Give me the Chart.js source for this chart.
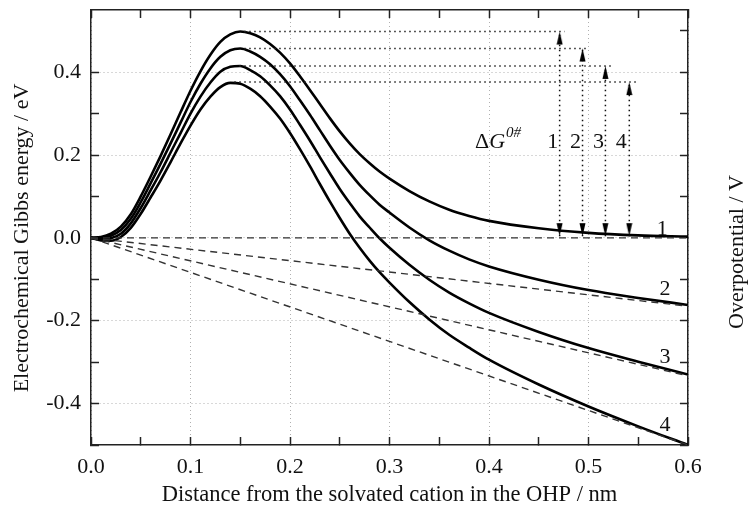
<!DOCTYPE html>
<html>
<head>
<meta charset="utf-8">
<script src="https://cdn.jsdelivr.net/npm/chart.js@4.4.0/dist/chart.umd.min.js"></script>
<style>
    html, body { margin: 0; padding: 0; background: #fff; }
</style>
</head>
<body>
<canvas id="chart-gibbs" width="750" height="517"></canvas>
<script>
// distance from the solvated cation in the OHP (nm)
var distance = [0, 0.01, 0.02, 0.03, 0.04, 0.05, 0.06, 0.07, 0.08, 0.09, 0.10, 0.11, 0.12, 0.13, 0.14, 0.15,
    0.16, 0.17, 0.18, 0.19, 0.20, 0.21, 0.22, 0.23, 0.24, 0.25, 0.26, 0.27, 0.28, 0.29, 0.30,
    0.32, 0.34, 0.36, 0.38, 0.40, 0.45, 0.50, 0.55, 0.60];

// electrochemical Gibbs energy (eV), curves 1-4
var gibbs1 = [0, 0.002, 0.010, 0.027, 0.057, 0.100, 0.148, 0.198, 0.250, 0.303, 0.355, 0.402, 0.442, 0.473, 0.491, 0.498,
    0.494, 0.484, 0.468, 0.447, 0.421, 0.390, 0.357, 0.323, 0.289, 0.257, 0.228, 0.202, 0.180, 0.160, 0.143,
    0.113, 0.088, 0.068, 0.053, 0.041, 0.023, 0.012, 0.006, 0.003];
var gibbs2 = [0, -0.001, 0.005, 0.019, 0.046, 0.086, 0.132, 0.179, 0.228, 0.278, 0.328, 0.372, 0.409, 0.437, 0.453, 0.457,
    0.450, 0.437, 0.419, 0.395, 0.366, 0.332, 0.297, 0.260, 0.223, 0.188, 0.157, 0.128, 0.103, 0.080, 0.061,
    0.025, -0.006, -0.031, -0.052, -0.069, -0.101, -0.126, -0.145, -0.162];
var gibbs3 = [0, -0.004, -0.001, 0.010, 0.035, 0.072, 0.115, 0.159, 0.206, 0.253, 0.300, 0.341, 0.375, 0.401, 0.413, 0.415,
    0.405, 0.390, 0.368, 0.342, 0.310, 0.273, 0.235, 0.195, 0.156, 0.118, 0.084, 0.052, 0.025, -0.001, -0.024,
    -0.065, -0.101, -0.132, -0.158, -0.181, -0.227, -0.266, -0.299, -0.330];
var gibbs4 = [0, -0.006, -0.007, 0.002, 0.024, 0.058, 0.098, 0.139, 0.183, 0.228, 0.271, 0.310, 0.341, 0.364, 0.374, 0.372,
    0.360, 0.342, 0.317, 0.288, 0.253, 0.214, 0.173, 0.130, 0.088, 0.048, 0.010, -0.024, -0.055, -0.083, -0.108,
    -0.155, -0.197, -0.234, -0.265, -0.294, -0.354, -0.407, -0.455, -0.500];

// overpotential drop (dashed lines), from 0 to 0.6 nm
var dropX = [0, 0.6];
var dropEnd = [0, -0.165, -0.333, -0.5];

// activation energies: peak positions, arrows and guide lines
var peakX = [0.150, 0.150, 0.145, 0.140];
var peakG = [0.498, 0.457, 0.415, 0.376];
var arrowX = [0.471, 0.494, 0.517, 0.541];
var arrowBase = 0.004;
var guideEndX = [0.476, 0.499, 0.524, 0.548];

// text labels
var curveLabels = ['1', '2', '3', '4'];
var curveLabelX = [0.574, 0.577, 0.577, 0.577];
var curveLabelY = [0.020, -0.125, -0.287, -0.452];
var arrowLabelX = [0.464, 0.487, 0.510, 0.533];
var arrowLabelY = 0.217;
var deltaGPos = [0.386, 0.217];

var serif = '"Liberation Serif", "Times New Roman", serif';

function isStep(v, step) {
    var n = v / step;
    return Math.abs(n - Math.round(n)) < 1e-6;
}

function pairs(xs, ys) {
    return xs.map(function(x, i) { return {x: x, y: ys[i]}; });
}

// narrow arrow head, tip sits at the centre of the canvas
function arrowHead() {
    var c = document.createElement('canvas');
    c.width = 7;
    c.height = 28;
    var g = c.getContext('2d');
    g.fillStyle = '#000';
    g.beginPath();
    g.moveTo(3.5, 14);
    g.lineTo(6.5, 27);
    g.lineTo(0.5, 27);
    g.closePath();
    g.fill();
    return c;
}

var head = arrowHead();
var datasets = [];

// dashed overpotential lines
dropEnd.forEach(function(end) {
    datasets.push({
        data: pairs(dropX, [0, end]),
        borderColor: '#333',
        borderWidth: 1.4,
        borderDash: [7, 5],
        pointRadius: 0
    });
});

// dotted guide lines from the peaks to the arrows
peakG.forEach(function(g, i) {
    datasets.push({
        data: [{x: peakX[i] + 0.004, y: g}, {x: guideEndX[i], y: g}],
        borderColor: '#222',
        borderWidth: 1.5,
        borderDash: [1.5, 3.5],
        pointRadius: 0
    });
});

// vertical arrows
peakG.forEach(function(g, i) {
    datasets.push({
        data: [{x: arrowX[i], y: arrowBase}, {x: arrowX[i], y: g}],
        borderColor: '#111',
        borderWidth: 1.5,
        borderDash: [1.5, 3.5],
        pointStyle: head,
        pointRotation: [180, 0],
        pointRadius: 5
    });
});

// energy curves
[gibbs1, gibbs2, gibbs3, gibbs4].forEach(function(g) {
    datasets.push({
        data: pairs(distance, g),
        borderColor: '#000',
        borderWidth: 2.6,
        pointRadius: 0,
        cubicInterpolationMode: 'monotone'
    });
});

var textPlugin = {
    id: 'textLabels',
    afterDatasetsDraw: function(chart) {
        var ctx = chart.ctx;
        var xs = chart.scales.x;
        var ys = chart.scales.y;
        ctx.save();
        ctx.fillStyle = '#111';
        ctx.font = '22px ' + serif;
        ctx.textAlign = 'center';
        ctx.textBaseline = 'middle';
        curveLabels.forEach(function(t, i) {
            ctx.fillText(t, xs.getPixelForValue(curveLabelX[i]), ys.getPixelForValue(curveLabelY[i]));
        });

        ctx.textBaseline = 'alphabetic';
        curveLabels.forEach(function(t, i) {
            ctx.fillText(t, xs.getPixelForValue(arrowLabelX[i]), ys.getPixelForValue(arrowLabelY));
        });

        // ΔG0#
        var px = xs.getPixelForValue(deltaGPos[0]);
        var py = ys.getPixelForValue(deltaGPos[1]);
        ctx.textAlign = 'left';
        ctx.font = '22px ' + serif;
        ctx.fillText('Δ', px, py);
        px += ctx.measureText('Δ').width;
        ctx.font = 'italic 22px ' + serif;
        ctx.fillText('G', px, py);
        px += ctx.measureText('G').width + 1;
        ctx.font = 'italic 15px ' + serif;
        ctx.fillText('0#', px, py - 11);

        // axis titles at the sides, both read bottom to top
        ctx.font = '22px ' + serif;
        ctx.textAlign = 'center';
        ctx.textBaseline = 'middle';
        ctx.save();
        ctx.translate(22, 238);
        ctx.rotate(-Math.PI / 2);
        ctx.fillText('Electrochemical Gibbs energy / eV', 0, 0);
        ctx.restore();

        ctx.translate(737, 252);
        ctx.rotate(-Math.PI / 2);
        ctx.fillText('Overpotential / V', 0, 0);
        ctx.restore();
    }
};

function gridColor(step) {
    return function(c) {
        return c.tick && isStep(c.tick.value, step) ? '#b0b0b0' : 'rgba(0,0,0,0)';
    };
}

function keepTenths(scale) {
    scale.ticks = scale.ticks.filter(function(t) { return isStep(t.value, 0.1); });
}

// fixed box sizes so the plot area matches the original figure
function fixWidth(w) {
    return function(s) { s.width = w; s.paddingTop = 0; s.paddingBottom = 0; };
}
function fixHeight(h) {
    return function(s) { s.height = h; s.paddingLeft = 0; s.paddingRight = 0; };
}

var ctx = document.getElementById('chart-gibbs');
var myChart = new Chart(ctx, {
    type: 'line',
    data: { datasets: datasets },
    plugins: [textPlugin],
    options: {
        responsive: false,
        animation: false,
        devicePixelRatio: 1,
        layout: { padding: 0 },
        plugins: {
            legend: { display: false },
            tooltip: { enabled: false }
        },
        scales: {
            x: {
                type: 'linear',
                position: 'bottom',
                min: 0,
                max: 0.6,
                afterFit: fixHeight(72),
                ticks: {
                    stepSize: 0.05,
                    autoSkip: false,
                    maxRotation: 0,
                    padding: 17,
                    color: '#111',
                    font: { family: serif, size: 22 },
                    callback: function(v) { return isStep(v, 0.1) ? (Math.round(v * 10) / 10).toFixed(1) : ''; }
                },
                grid: {
                    color: gridColor(0.1),
                    lineWidth: 1,
                    tickColor: '#222',
                    tickWidth: 1.5,
                    tickLength: -8
                },
                border: { display: true, color: '#222', width: 1.5, dash: [1, 3] },
                title: {
                    display: true,
                    text: 'Distance from the solvated cation in the OHP / nm',
                    color: '#111',
                    font: { family: serif, size: 22.5 },
                    padding: { top: 0, bottom: 8 }
                }
            },
            x2: {
                type: 'linear',
                position: 'top',
                min: 0,
                max: 0.6,
                afterFit: fixHeight(10),
                ticks: { stepSize: 0.05, autoSkip: false, display: false },
                grid: { drawOnChartArea: false, tickColor: '#222', tickWidth: 1.5, tickLength: -8 },
                border: { display: true, color: '#222', width: 1.5 }
            },
            y: {
                type: 'linear',
                position: 'left',
                min: -0.5,
                max: 0.55,
                afterFit: fixWidth(91),
                afterBuildTicks: keepTenths,
                ticks: {
                    stepSize: 0.1,
                    autoSkip: false,
                    padding: 18,
                    color: '#111',
                    font: { family: serif, size: 22 },
                    callback: function(v) { return isStep(v, 0.2) ? (Math.round(v * 10) / 10).toFixed(1) : ''; }
                },
                grid: {
                    color: gridColor(0.2),
                    lineWidth: 1,
                    tickColor: '#222',
                    tickWidth: 1.5,
                    tickLength: -8
                },
                border: { display: true, color: '#222', width: 1.5, dash: [1, 3] }
            },
            y2: {
                type: 'linear',
                position: 'right',
                min: -0.5,
                max: 0.55,
                afterFit: fixWidth(62),
                afterBuildTicks: keepTenths,
                ticks: { stepSize: 0.1, autoSkip: false, display: false },
                grid: { drawOnChartArea: false, tickColor: '#222', tickWidth: 1.5, tickLength: -8 },
                border: { display: true, color: '#222', width: 1.5 }
            }
        }
    }
});
</script>
</body>
</html>
